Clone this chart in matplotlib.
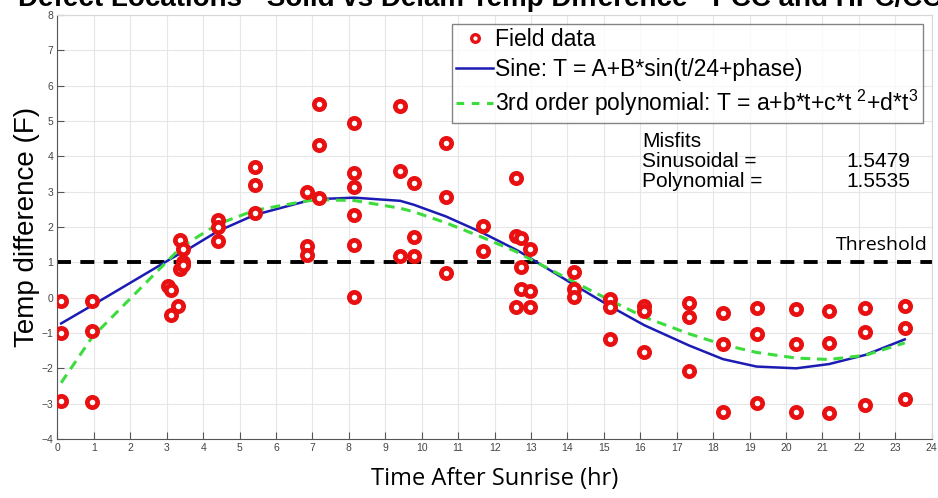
import matplotlib
matplotlib.use("Agg")
import matplotlib.pyplot as plt
from matplotlib.lines import Line2D
import numpy as np

plt.rcParams['font.family'] = ['Liberation Sans', 'DejaVu Sans']
plt.rcParams['mathtext.fontset'] = 'custom'
plt.rcParams['mathtext.rm'] = 'Liberation Sans'

# field data: time after sunrise (hr) and temperature difference (F)
field_t = [0.1, 0.1, 0.1, 0.95, 0.95, 0.95,
           3.03, 3.11, 3.11, 3.32, 3.35, 3.35, 3.44, 3.44, 3.44,
           4.4, 4.4, 4.4, 5.41, 5.41, 5.41,
           6.86, 6.86, 6.86, 7.17, 7.17, 7.17,
           8.15, 8.15, 8.15, 8.15, 8.15, 8.15,
           9.41, 9.41, 9.41, 9.78, 9.78, 9.78,
           10.66, 10.66, 10.66, 11.68, 11.68,
           12.6, 12.6, 12.6, 12.72, 12.72, 12.72, 12.96, 12.96, 12.96,
           14.17, 14.17, 14.17, 15.18, 15.18, 15.18,
           16.11, 16.11, 16.11, 17.33, 17.33, 17.33,
           18.27, 18.27, 18.27, 19.19, 19.19, 19.19,
           20.28, 20.28, 20.28, 21.18, 21.18, 21.18,
           22.18, 22.18, 22.18, 23.26, 23.26, 23.26]
field_dT = [-0.09, -1.01, -2.92, -0.09, -0.94, -2.94,
            0.32, 0.22, -0.49, -0.24, 1.62, 0.80, 1.38, 1.02, 0.92,
            2.21, 2.0, 1.6, 3.71, 3.18, 2.4,
            3.0, 1.46, 1.21, 5.48, 4.32, 2.81,
            4.95, 3.52, 3.12, 2.34, 1.49, 0.02,
            5.42, 3.59, 1.18, 3.25, 1.71, 1.18,
            4.37, 2.86, 0.69, 2.02, 1.32,
            3.39, 1.75, -0.26, 1.68, 0.87, 0.24, 1.37, 0.2, -0.26,
            0.74, 0.24, 0.02, -0.03, -0.26, -1.17,
            -0.24, -0.37, -1.55, -0.16, -0.54, -2.08,
            -0.43, -1.31, -3.23, -0.3, -1.03, -2.97,
            -0.33, -1.31, -3.25, -0.37, -1.29, -3.26,
            -0.28, -0.96, -3.04, -0.24, -0.85, -2.88]

# fitted curves, read at the distinct data times
fit_t = [0.1, 0.95, 3.03, 3.11, 3.35, 3.44, 4.4, 5.41, 6.86, 7.17, 8.15,
         9.41, 9.78, 10.66, 11.68, 12.6, 12.72, 12.96, 14.17, 15.18, 16.11,
         17.33, 18.27, 19.19, 20.28, 21.18, 22.18, 23.26]
sine_fit = [-0.73, -0.22, 1.05, 1.1, 1.24, 1.28, 1.88, 2.34, 2.74, 2.79, 2.83,
            2.74, 2.63, 2.3, 1.83, 1.35, 1.28, 1.13, 0.37, -0.25, -0.78,
            -1.35, -1.74, -1.95, -2.0, -1.88, -1.62, -1.18]
poly_fit = [-2.41, -1.12, 1.05, 1.13, 1.38, 1.46, 2.08, 2.47, 2.74, 2.77, 2.75,
            2.53, 2.43, 2.12, 1.7, 1.3, 1.23, 1.1, 0.45, -0.08, -0.55,
            -1.02, -1.33, -1.55, -1.71, -1.75, -1.63, -1.28]

threshold = 1.0
misfit_sine = 1.5479
misfit_poly = 1.5535

RED = '#e81010'
BLUE = '#1c1cb4'
GREEN = '#3ddc3d'

fig = plt.figure(figsize=(9.38, 4.98), dpi=100)
ax = fig.add_axes([0.0613, 0.1185, 0.932, 0.8514])

ax.plot([0, 24], [threshold, threshold], color='black', lw=2.8, dashes=(3.6, 2.4), zorder=2)
ax.plot(fit_t, sine_fit, color=BLUE, lw=1.8, zorder=3)
ax.plot(fit_t, poly_fit, color=GREEN, lw=2.2, dashes=(3.2, 2.2), zorder=3)
ax.plot(field_t, field_dT, 'o', ls='none', color=RED, mfc='white',
        mec=RED, ms=7.4, mew=3.4, zorder=4)

ax.set_xlim(0, 24)
ax.set_ylim(-4, 8)
ax.set_xticks(np.arange(0, 25, 1))
ax.set_yticks(np.arange(-4, 9, 1))
ax.grid(True, color='#e6e6e6', lw=0.8)
ax.set_axisbelow(True)
ax.tick_params(direction='in', length=5, width=0.8, colors='#555555',
               labelsize=7.5, labelcolor='#444444', pad=3)
for s in ['left', 'bottom']:
    ax.spines[s].set_color('#555555')
for s in ['top', 'right']:
    ax.spines[s].set_color('#d8d8d8')

ax.set_ylabel('Temp difference (F)', fontsize=20, labelpad=1)
ax.set_xlabel('Time After Sunrise (hr)', fontsize=17, family=['Open Sans', 'DejaVu Sans'],
              labelpad=10)

handles = [
    Line2D([], [], marker='o', ls='none', color=RED, mfc='white', mec=RED,
           ms=5.5, mew=2.4),
    Line2D([], [], color=BLUE, lw=1.8),
    Line2D([], [], color=GREEN, lw=2.2, dashes=(2.5, 2.5)),
]
labels = ['Field data', 'Sine: T = A+B*sin(t/24+phase)',
          r'3rd order polynomial: T = a+b*t+c*t $^{2}$+d*t$^{3}$']
leg = ax.legend(handles, labels, loc='upper right', bbox_to_anchor=(0.99, 0.979),
                fontsize=16.5, frameon=True, fancybox=False, handlelength=1.6,
                handletextpad=0.1, borderpad=0.2, labelspacing=0.3, borderaxespad=0)
leg.get_frame().set_edgecolor('#666666')
leg.get_frame().set_linewidth(1.0)

fs = 15
ax.text(0.669, 0.702, 'Misfits', transform=ax.transAxes, fontsize=fs, va='center')
ax.text(0.669, 0.655, 'Sinusoidal =', transform=ax.transAxes, fontsize=fs, va='center')
ax.text(0.669, 0.608, 'Polynomial =', transform=ax.transAxes, fontsize=fs, va='center')
ax.text(0.975, 0.655, f'{misfit_sine:.4f}', transform=ax.transAxes, fontsize=fs,
        va='center', ha='right')
ax.text(0.975, 0.608, f'{misfit_poly:.4f}', transform=ax.transAxes, fontsize=fs,
        va='center', ha='right')

ax.text(0.996, 0.458, 'Threshold', transform=ax.transAxes, fontsize=14, ha='right',
        va='center', family=['Open Sans', 'DejaVu Sans'])

fig.text(18 / 938, 1 - 6 / 498,
         'Defect Locations - Solid vs Delam Temp Difference - PCC and HPC/CC',
         fontsize=20, fontweight='bold', va='baseline', ha='left')

fig.savefig('out.png', dpi=100)
